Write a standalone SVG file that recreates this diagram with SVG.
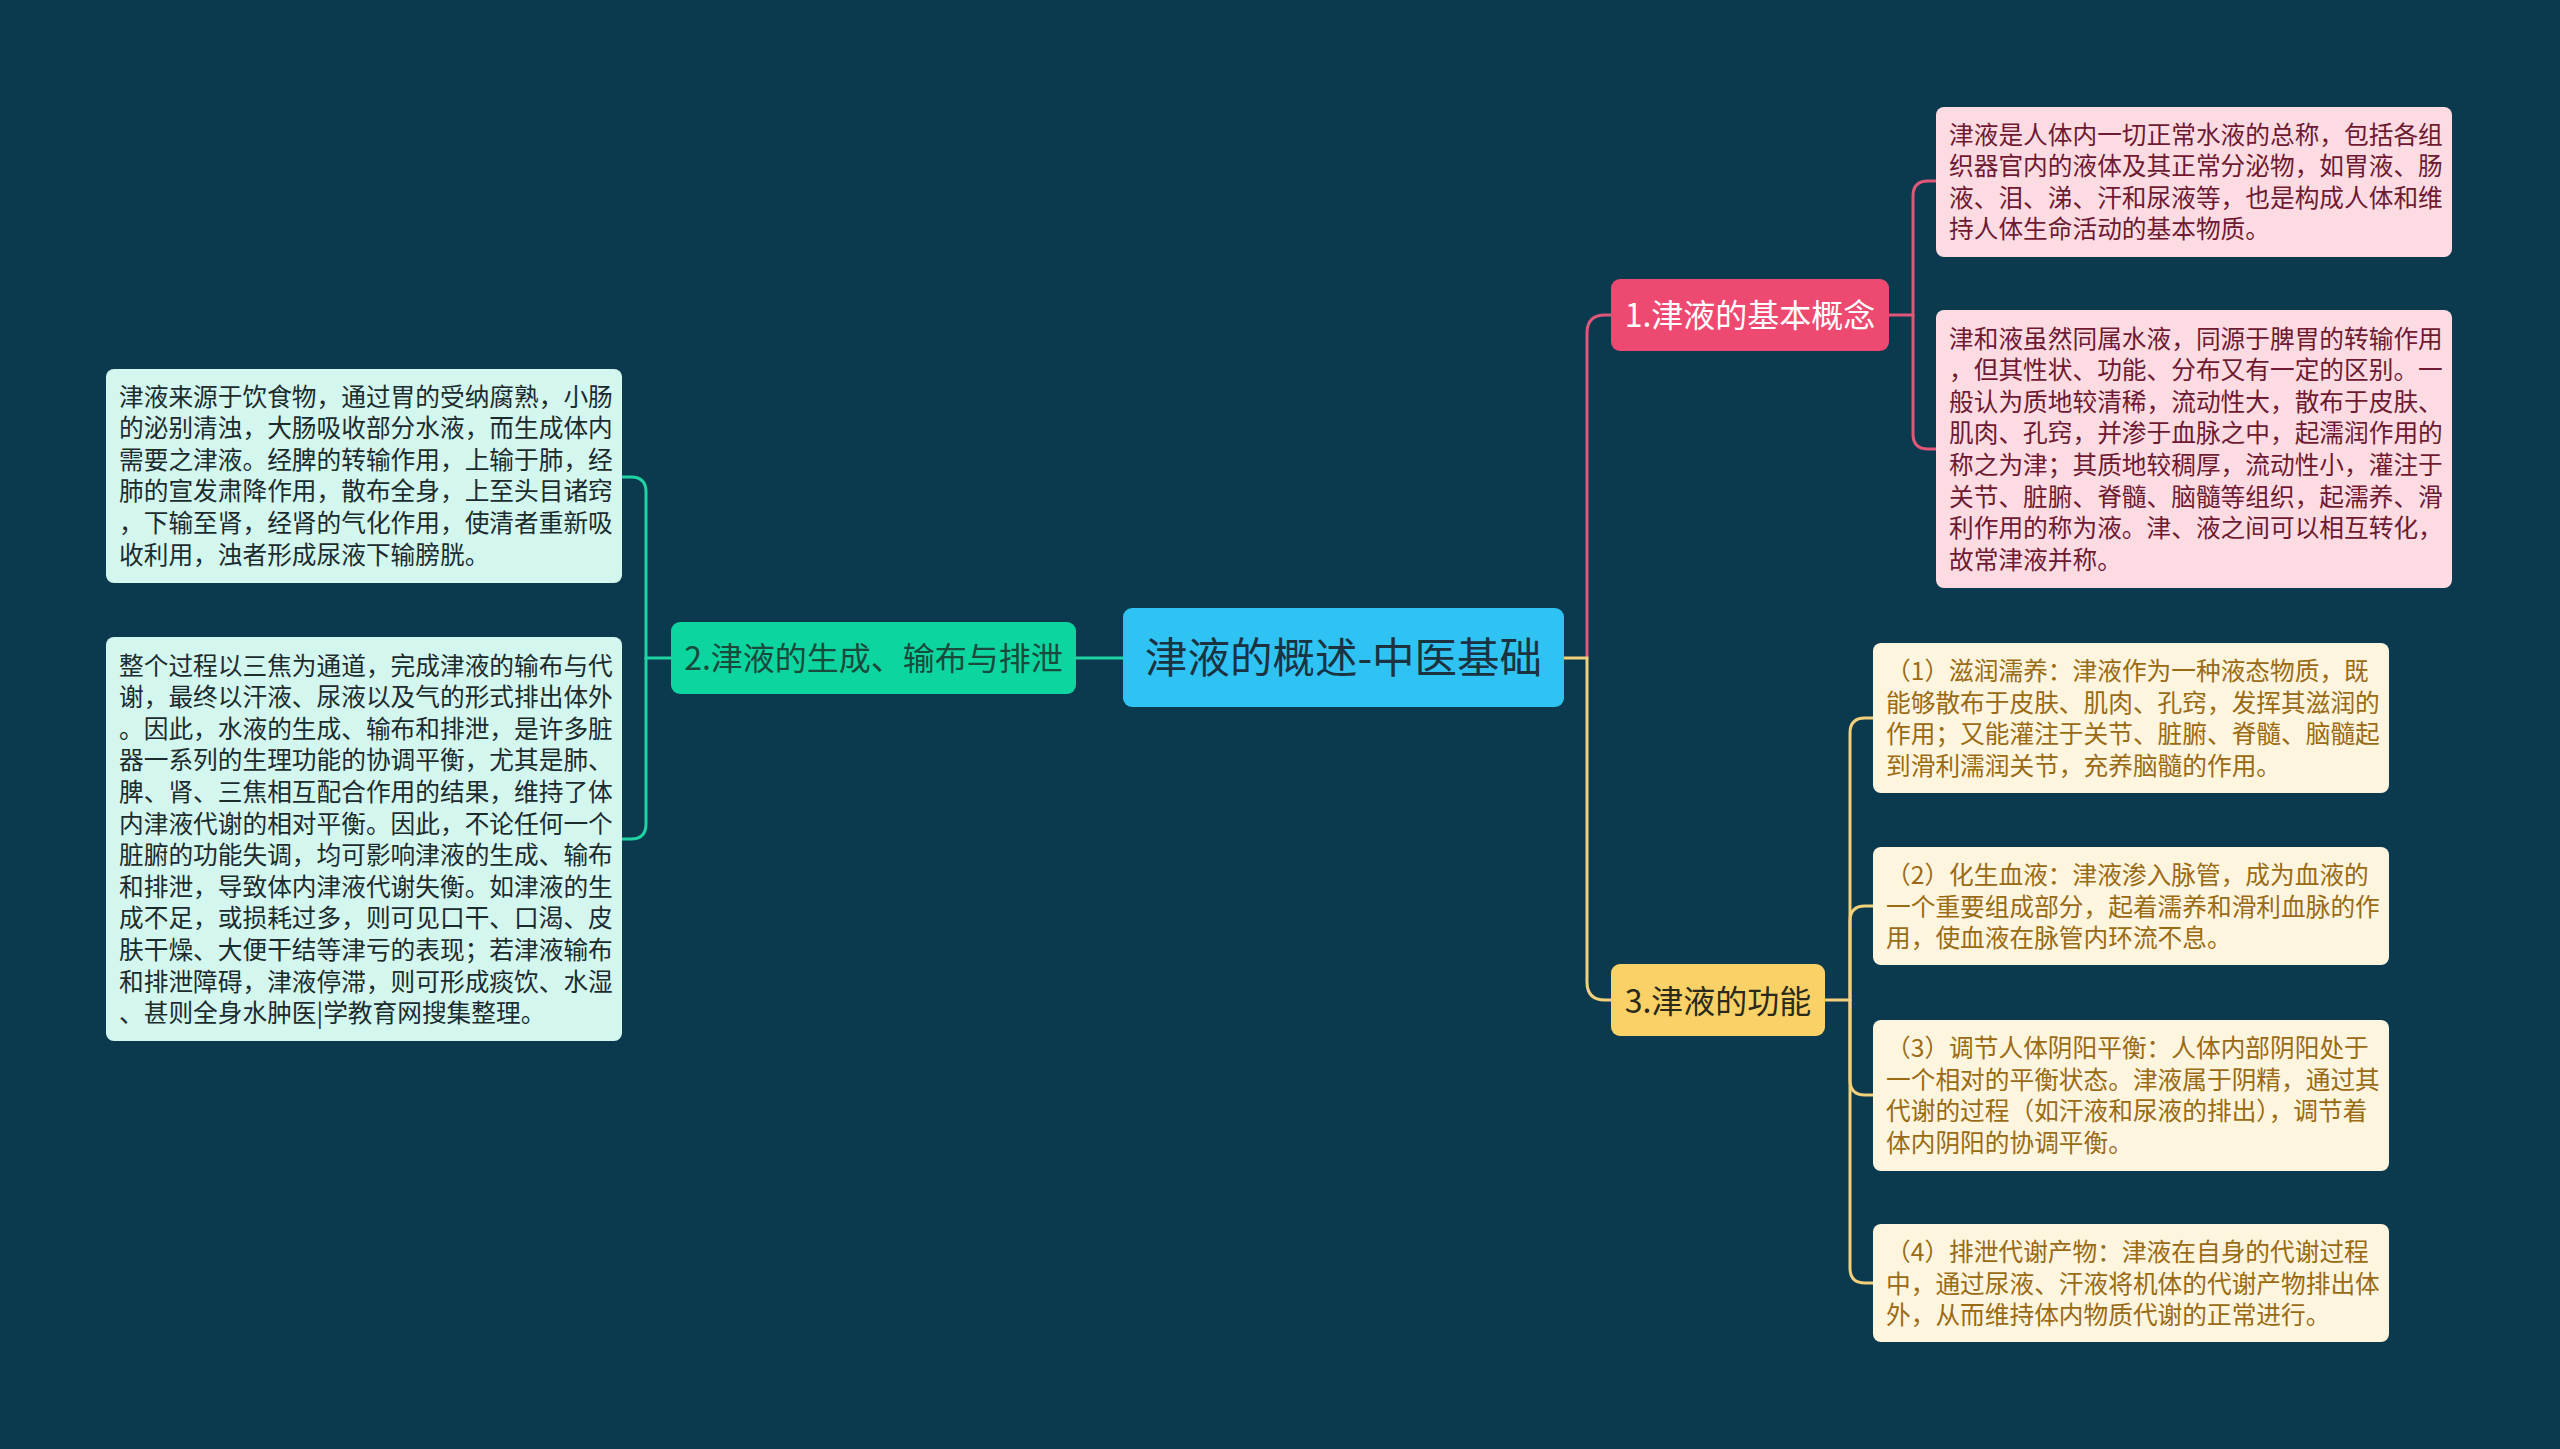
<svg xmlns="http://www.w3.org/2000/svg" width="2560" height="1449" viewBox="0 0 2560 1449">
<style>
.bg{fill:#0b394d}
.con{fill:none;stroke-width:3;stroke-linecap:round}
.pk{stroke:#e0577a}
.yl{stroke:#f3d07a}
.tl{stroke:#1fd3a3}
text{font-family:"Noto Sans CJK SC","Noto Sans",sans-serif}
.lp{fill:#fcdce2}
.lm{fill:#d3f6ee}
.ly{fill:#fef5df}
.tp{font-size:24.7px;fill:#6e1a33}
.tm{font-size:24.7px;fill:#1c2c2e}
.ty{font-size:24.7px;fill:#9a6b14}
.t1{font-size:32px;text-anchor:middle}
</style>
<rect class="bg" x="0" y="0" width="2560" height="1449"/>
<g id="connectors">
<path class="con pk" d="M1587,658 V333 Q1587,315 1605,315 H1611"/>
<path class="con yl" d="M1564,658 H1587 V982 Q1587,1000 1605,1000 H1611"/>
<path class="con tl" d="M1123,658 H1076"/>
<path class="con pk" d="M1889,315 H1913"/>
<path class="con pk" d="M1913,315 V196 Q1913,181 1928,181 H1936"/>
<path class="con pk" d="M1913,315 V434 Q1913,449 1928,449 H1936"/>
<path class="con yl" d="M1825,1000 H1850"/>
<path class="con yl" d="M1850,1000 V733 Q1850,718 1865,718 H1873"/>
<path class="con yl" d="M1850,1000 V921 Q1850,906 1865,906 H1873"/>
<path class="con yl" d="M1850,1000 V1080 Q1850,1095 1865,1095 H1873"/>
<path class="con yl" d="M1850,1000 V1268 Q1850,1283 1865,1283 H1873"/>
<path class="con tl" d="M671,658 H646"/>
<path class="con tl" d="M646,658 V492 Q646,477 631,477 H622"/>
<path class="con tl" d="M646,658 V824 Q646,839 631,839 H622"/>
</g>
<g id="root">
<rect x="1123" y="608" width="441" height="99" rx="9" fill="#2fc3f3"/>
<text x="1343.5" y="673" style="font-size:42.5px;text-anchor:middle;fill:#1b3341">津液的概述-中医基础</text>
</g>
<g id="n1">
<rect x="1611" y="279" width="278" height="72" rx="9" fill="#ee4a71"/>
<text class="t1" x="1750" y="327" fill="#ffffff">1.津液的基本概念</text>
</g>
<g id="n2">
<rect x="671" y="622" width="405" height="72" rx="9" fill="#0dd5a0"/>
<text class="t1" x="873.5" y="670" fill="#1a4a3c">2.津液的生成、输布与排泄</text>
</g>
<g id="n3">
<rect x="1611" y="964" width="214" height="72" rx="9" fill="#f9d166"/>
<text class="t1" x="1718" y="1013" fill="#2a2a1c">3.津液的功能</text>
</g>
<g id="n1a">
<rect class="lp" x="1936" y="107" width="516" height="150" rx="8"/>
<text class="tp"><tspan x="1949" y="143.5">津液是人体内一切正常水液的总称，包括各组</tspan><tspan x="1949" dy="31.6">织器官内的液体及其正常分泌物，如胃液、肠</tspan><tspan x="1949" dy="31.6">液、泪、涕、汗和尿液等，也是构成人体和维</tspan><tspan x="1949" dy="31.6">持人体生命活动的基本物质。</tspan></text>
</g>
<g id="n1b">
<rect class="lp" x="1936" y="310" width="516" height="278" rx="8"/>
<text class="tp"><tspan x="1949" y="347.5">津和液虽然同属水液，同源于脾胃的转输作用</tspan><tspan x="1949" dy="31.6">，但其性状、功能、分布又有一定的区别。一</tspan><tspan x="1949" dy="31.6">般认为质地较清稀，流动性大，散布于皮肤、</tspan><tspan x="1949" dy="31.6">肌肉、孔窍，并渗于血脉之中，起濡润作用的</tspan><tspan x="1949" dy="31.6">称之为津；其质地较稠厚，流动性小，灌注于</tspan><tspan x="1949" dy="31.6">关节、脏腑、脊髓、脑髓等组织，起濡养、滑</tspan><tspan x="1949" dy="31.6">利作用的称为液。津、液之间可以相互转化，</tspan><tspan x="1949" dy="31.6">故常津液并称。</tspan></text>
</g>
<g id="n2a">
<rect class="lm" x="106" y="369" width="516" height="214" rx="8"/>
<text class="tm"><tspan x="119" y="405.5">津液来源于饮食物，通过胃的受纳腐熟，小肠</tspan><tspan x="119" dy="31.6">的泌别清浊，大肠吸收部分水液，而生成体内</tspan><tspan x="119" dy="31.6">需要之津液。经脾的转输作用，上输于肺，经</tspan><tspan x="119" dy="31.6">肺的宣发肃降作用，散布全身，上至头目诸窍</tspan><tspan x="119" dy="31.6">，下输至肾，经肾的气化作用，使清者重新吸</tspan><tspan x="119" dy="31.6">收利用，浊者形成尿液下输膀胱。</tspan></text>
</g>
<g id="n2b">
<rect class="lm" x="106" y="637" width="516" height="404" rx="8"/>
<text class="tm"><tspan x="119" y="674.5">整个过程以三焦为通道，完成津液的输布与代</tspan><tspan x="119" dy="31.6">谢，最终以汗液、尿液以及气的形式排出体外</tspan><tspan x="119" dy="31.6">。因此，水液的生成、输布和排泄，是许多脏</tspan><tspan x="119" dy="31.6">器一系列的生理功能的协调平衡，尤其是肺、</tspan><tspan x="119" dy="31.6">脾、肾、三焦相互配合作用的结果，维持了体</tspan><tspan x="119" dy="31.6">内津液代谢的相对平衡。因此，不论任何一个</tspan><tspan x="119" dy="31.6">脏腑的功能失调，均可影响津液的生成、输布</tspan><tspan x="119" dy="31.6">和排泄，导致体内津液代谢失衡。如津液的生</tspan><tspan x="119" dy="31.6">成不足，或损耗过多，则可见口干、口渴、皮</tspan><tspan x="119" dy="31.6">肤干燥、大便干结等津亏的表现；若津液输布</tspan><tspan x="119" dy="31.6">和排泄障碍，津液停滞，则可形成痰饮、水湿</tspan><tspan x="119" dy="31.6">、甚则全身水肿医|学教育网搜集整理。</tspan></text>
</g>
<g id="n3a">
<rect class="ly" x="1873" y="643" width="516" height="150" rx="8"/>
<text class="ty"><tspan x="1886" y="680">（1）滋润濡养：津液作为一种液态物质，既</tspan><tspan x="1886" dy="31.6">能够散布于皮肤、肌肉、孔窍，发挥其滋润的</tspan><tspan x="1886" dy="31.6">作用；又能灌注于关节、脏腑、脊髓、脑髓起</tspan><tspan x="1886" dy="31.6">到滑利濡润关节，充养脑髓的作用。</tspan></text>
</g>
<g id="n3b">
<rect class="ly" x="1873" y="847" width="516" height="118" rx="8"/>
<text class="ty"><tspan x="1886" y="884">（2）化生血液：津液渗入脉管，成为血液的</tspan><tspan x="1886" dy="31.6">一个重要组成部分，起着濡养和滑利血脉的作</tspan><tspan x="1886" dy="31.6">用，使血液在脉管内环流不息。</tspan></text>
</g>
<g id="n3c">
<rect class="ly" x="1873" y="1020" width="516" height="151" rx="8"/>
<text class="ty"><tspan x="1886" y="1057">（3）调节人体阴阳平衡：人体内部阴阳处于</tspan><tspan x="1886" dy="31.6">一个相对的平衡状态。津液属于阴精，通过其</tspan><tspan x="1886" dy="31.6">代谢的过程（如汗液和尿液的排出），调节着</tspan><tspan x="1886" dy="31.6">体内阴阳的协调平衡。</tspan></text>
</g>
<g id="n3d">
<rect class="ly" x="1873" y="1224" width="516" height="118" rx="8"/>
<text class="ty"><tspan x="1886" y="1261">（4）排泄代谢产物：津液在自身的代谢过程</tspan><tspan x="1886" dy="31.6">中，通过尿液、汗液将机体的代谢产物排出体</tspan><tspan x="1886" dy="31.6">外，从而维持体内物质代谢的正常进行。</tspan></text>
</g>
</svg>
